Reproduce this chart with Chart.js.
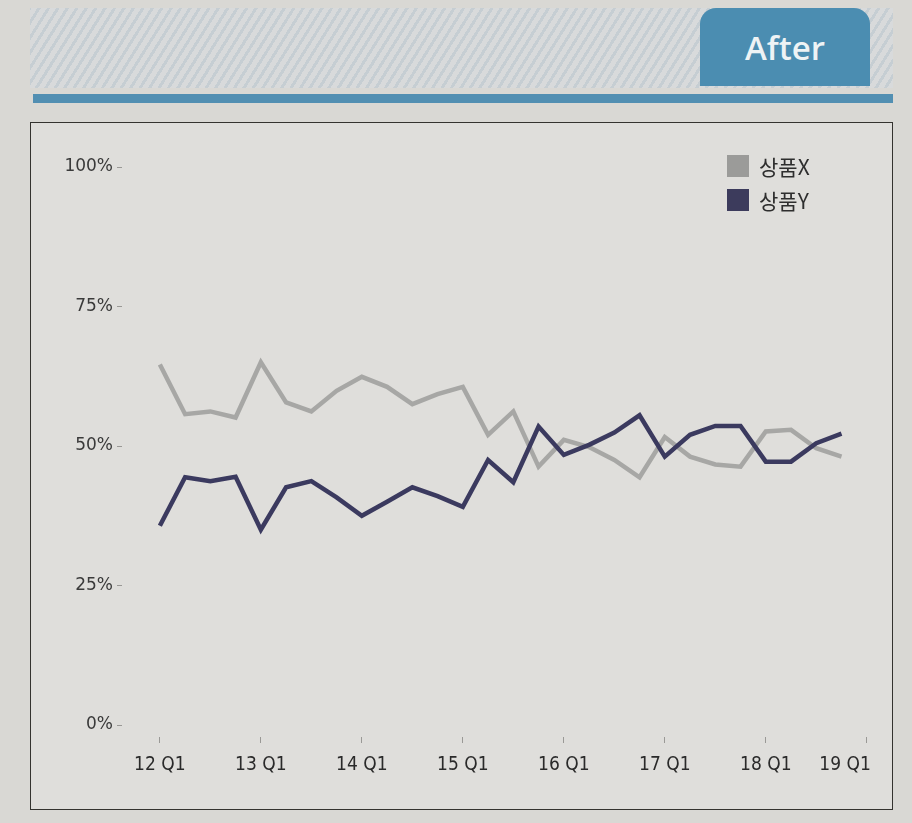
<!DOCTYPE html>
<html>
<head>
<meta charset="utf-8">
<script src="https://cdn.jsdelivr.net/npm/chart.js@4.4.1/dist/chart.umd.min.js"></script>
<style>
  html, body { margin: 0; padding: 0; }
  body { width: 912px; height: 823px; background: #d9d8d4; position: relative; overflow: hidden; }
  .band { position: absolute; left: 30px; top: 8px; width: 863px; height: 80px;
    background: repeating-linear-gradient(-58deg, #d8dadb 0px, #d8dadb 5px, #c6ced3 5px, #c6ced3 8px); }
  .tab { position: absolute; left: 700px; top: 8px; width: 170px; height: 78px; background: #4b8db1;
    border-radius: 16px 16px 0 0; color: #eef3f5; font: 600 33px "Open Sans", sans-serif; text-align: center; line-height: 80px; }
  .bar { position: absolute; left: 33px; top: 94px; width: 860px; height: 9px; background: #528fb2; }
  .box { position: absolute; left: 30px; top: 122px; width: 861px; height: 686px; border: 1.5px solid #34332f; background: #dfdedb; }
  canvas { position: absolute; left: 0; top: 0; }
  .legend { position: absolute; left: 696px; top: 26px; font: 21px "Noto Sans CJK KR", sans-serif; color: #2e2e2e; }
  .legend div { height: 34px; display: flex; align-items: center; }
  .legend span.sw { display: inline-block; width: 22px; height: 22px; margin-right: 10px; }
</style>
</head>
<body>
<div class="band"></div>
<div class="tab">After</div>
<div class="bar"></div>
<div class="box">
  <canvas id="myChart" width="861" height="686"></canvas>
  <div class="legend" id="legend"></div>
</div>
<script>
// quarter categories (only every 4th one is labelled)
const quarters = ['12 Q1', '12 Q2', '12 Q3', '12 Q4', '13 Q1', '13 Q2', '13 Q3', '13 Q4',
  '14 Q1', '14 Q2', '14 Q3', '14 Q4', '15 Q1', '15 Q2', '15 Q3', '15 Q4',
  '16 Q1', '16 Q2', '16 Q3', '16 Q4', '17 Q1', '17 Q2', '17 Q3', '17 Q4',
  '18 Q1', '18 Q2', '18 Q3', '18 Q4', '19 Q1'];
const xTickIdx = [0, 4, 8, 12, 16, 20, 24, 28];
const yTicks = [0, 25, 50, 75, 100];

const seriesNames = ['상품X', '상품Y'];
const productX = [64.6, 55.7, 56.2, 55.1, 65.0, 57.8, 56.2, 59.9, 62.4, 60.6, 57.5, 59.3, 60.6, 52.0,
  56.2, 46.3, 51.1, 49.8, 47.5, 44.4, 51.6, 48.1, 46.7, 46.3, 52.6, 52.9, 49.6, 48.1];
const productY = [35.7, 44.4, 43.7, 44.5, 35.0, 42.6, 43.7, 40.8, 37.5, 40.0, 42.6, 41.0, 39.1, 47.5,
  43.5, 53.5, 48.4, 50.2, 52.4, 55.5, 48.1, 52.0, 53.6, 53.6, 47.2, 47.2, 50.5, 52.2];

const lineColors = ['#a7a7a5', '#3b3a5f'];
const swatchColors = ['#9b9b99', '#3c3b5c'];

const toPoints = (values) => values.map((v, i) => ({ x: i, y: v }));

// legend (html, top right of the plot)
const legend = document.getElementById('legend');
seriesNames.forEach((name, i) => {
  const row = document.createElement('div');
  row.innerHTML = `<span class="sw" style="background:${swatchColors[i]}"></span>${name}`;
  legend.appendChild(row);
});

const lastIdx = xTickIdx[xTickIdx.length - 1];

new Chart('myChart', {
  type: 'line',
  data: {
    datasets: [{
      label: seriesNames[0],
      data: toPoints(productX),
      borderColor: lineColors[0],
      borderWidth: 4.5,
      pointRadius: 0,
      borderJoinStyle: 'miter',
      tension: 0,
      order: 1
    }, {
      label: seriesNames[1],
      data: toPoints(productY),
      borderColor: lineColors[1],
      borderWidth: 4.5,
      pointRadius: 0,
      borderJoinStyle: 'miter',
      tension: 0,
      order: 0
    }]
  },
  options: {
    responsive: false,
    animation: false,
    layout: { padding: { top: 44, left: 0, right: 0, bottom: 0 } },
    plugins: { legend: { display: false }, tooltip: { enabled: false } },
    scales: {
      x: {
        type: 'linear',
        min: -1.5,
        max: 29,
        afterBuildTicks: (s) => { s.ticks = xTickIdx.map(v => ({ value: v })); },
        afterFit: (s) => { s.height = 72; s.paddingLeft = 0; s.paddingRight = 0; },
        border: { display: false },
        grid: { drawOnChartArea: false, tickLength: 6, tickColor: '#9a9996' },
        ticks: {
          autoSkip: false,
          maxRotation: 0,
          padding: 11,
          color: '#2a2a2a',
          font: { family: '"DejaVu Sans Condensed", "Liberation Sans", sans-serif', size: 19 },
          // last label sits pulled in to the left, as in the original
          callback: (v) => v === lastIdx ? quarters[v] + '\u00a0'.repeat(8) : quarters[v]
        }
      },
      y: {
        min: -2.15,
        max: 100,
        afterBuildTicks: (s) => { s.ticks = yTicks.map(v => ({ value: v })); },
        afterFit: (s) => { s.width = 91; },
        border: { display: false },
        grid: { drawOnChartArea: false, tickLength: 5, tickColor: '#9a9996' },
        ticks: {
          padding: 4,
          color: '#3a3a3a',
          font: { family: '"DejaVu Sans", sans-serif', size: 17 },
          callback: (v) => v + '%'
        }
      }
    }
  }
});
</script>
</body>
</html>
